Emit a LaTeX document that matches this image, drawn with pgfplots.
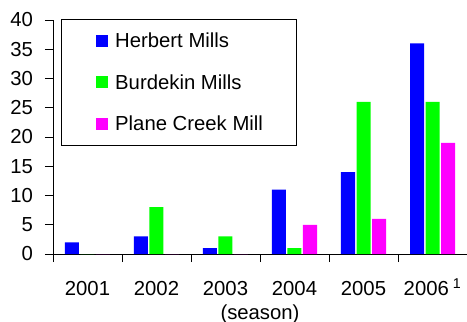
\documentclass[border=0pt]{standalone}
\usepackage{fontspec}
\setmainfont{Liberation Sans}
\usepackage{pgfplots}
\pgfplotsset{compat=1.18}
\definecolor{hblue}{RGB}{0,0,255}
\definecolor{bgreen}{RGB}{0,255,0}
\definecolor{pmag}{RGB}{255,0,255}
\newcommand{\cf}{\fontsize{20.3bp}{24bp}\selectfont}
\begin{document}
\cf
\begin{tikzpicture}
\path[use as bounding box] (-53bp,-68bp) rectangle (414bp,254bp);
\begin{axis}[
  at={(0,0)}, anchor=south west,
  scale only axis, width=414bp, height=234bp,
  ymin=0, ymax=40, ytick={0,5,...,40},
  xmin=-0.5, xmax=5.5,
  xtick={-0.5,0.5,...,5.5}, x tick label as interval,
  xticklabels={2001,2002,2003,2004,2005,2006\hspace{4bp}\textsuperscript{1}},
  axis x line*=bottom, axis y line*=left,
  tick align=outside, major tick length=8bp,
  tick style={black, line width=0.8bp},
  axis line style={black, line width=0.8bp},
  /pgf/number format/assume math mode=true,
  ticklabel style={font=\cf},
  yticklabel style={xshift=-5bp},
  xticklabel style={text height=14.6bp, text depth=0bp, yshift=-12bp},
  xlabel={(season)},
  xlabel style={font=\cf, at={(axis description cs:0.5,-0.2564)}, anchor=center},
  ybar=1.5bp, bar width=14bp,
  legend style={at={(0.0186,1.004)}, anchor=north west, draw=black, line width=0.8bp,
    font=\cf, inner xsep=33.5bp, inner ysep=14bp, row sep=27bp,
    nodes={inner sep=0pt, text height=14.5bp, text depth=0bp},
    /tikz/every odd column/.append style={column sep=7.3bp}},
  legend cell align=left,
  legend image code/.code={\path (0bp,0bp); \fill[#1] (1.6bp,-5.8bp) rectangle (13.3bp,5.8bp);},
]
\addplot[draw=none, fill=hblue] coordinates {(0,2) (1,3) (2,1) (3,11) (4,14) (5,36)};
\addplot[draw=none, fill=bgreen] coordinates {(0,0) (1,8) (2,3) (3,1) (4,26) (5,26)};
\addplot[draw=none, fill=pmag] coordinates {(0,0) (1,0) (2,0) (3,5) (4,6) (5,19)};
\legend{Herbert Mills, Burdekin Mills, Plane Creek Mill}
\end{axis}
\end{tikzpicture}
\end{document}
